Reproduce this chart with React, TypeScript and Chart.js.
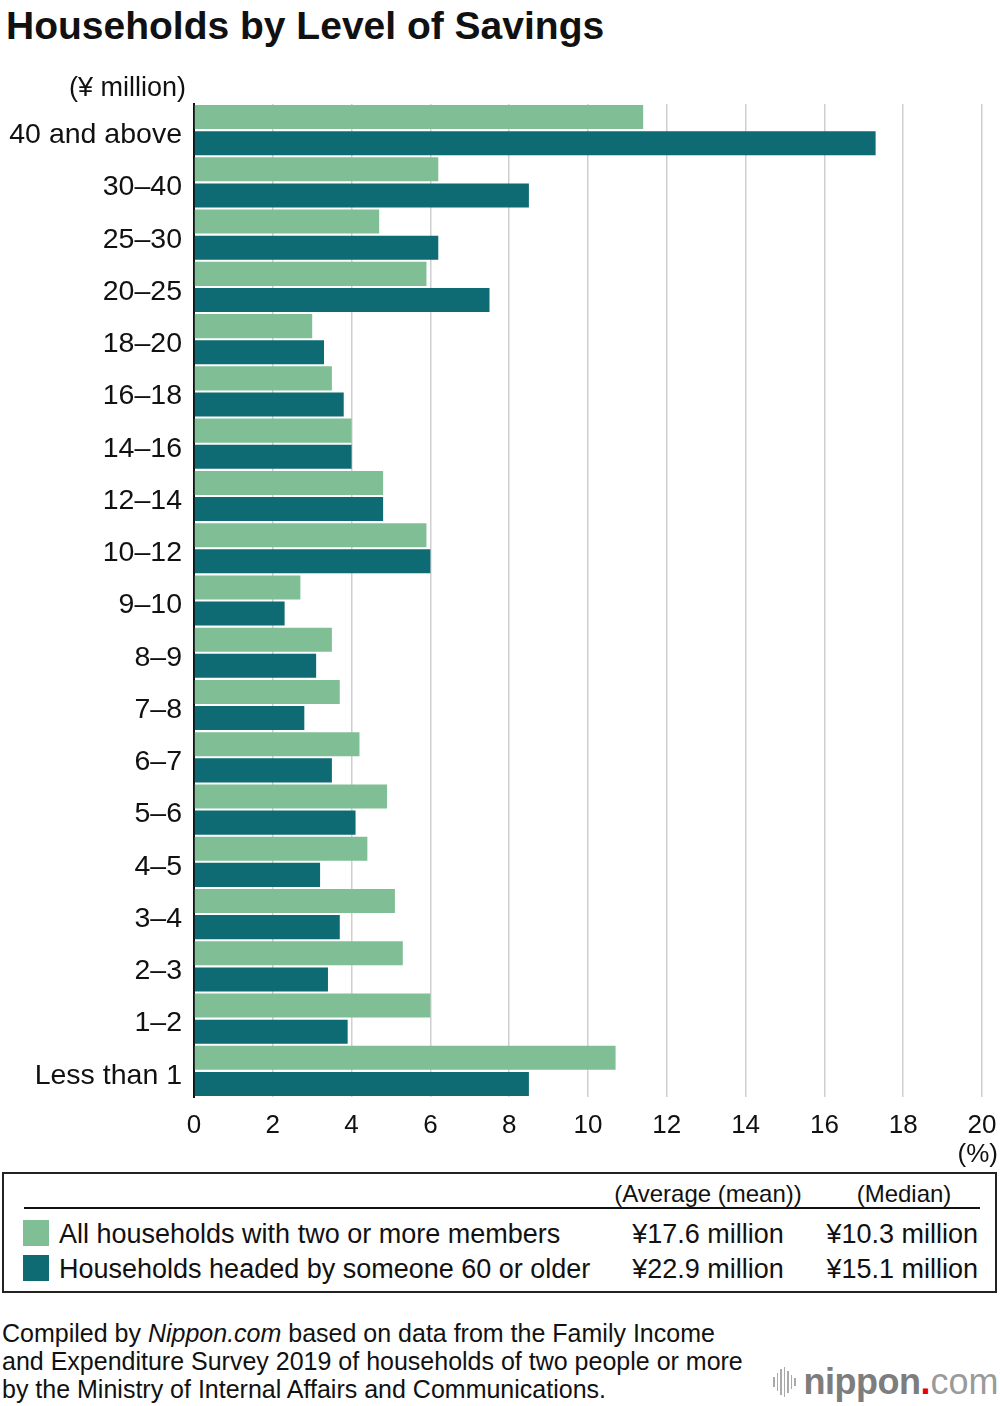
import React, { useEffect, useRef } from "react";
import { Chart, registerables } from "chart.js";

Chart.register(...registerables);

const categories = [
  "40 and above", "30–40", "25–30", "20–25", "18–20", "16–18", "14–16", "12–14", "10–12",
  "9–10", "8–9", "7–8", "6–7", "5–6", "4–5", "3–4", "2–3", "1–2", "Less than 1",
];
const allHouseholds = [11.4, 6.2, 4.7, 5.9, 3.0, 3.5, 4.0, 4.8, 5.9, 2.7, 3.5, 3.7, 4.2, 4.9, 4.4, 5.1, 5.3, 6.0, 10.7];
const seniorHouseholds = [17.3, 8.5, 6.2, 7.5, 3.3, 3.8, 4.0, 4.8, 6.0, 2.3, 3.1, 2.8, 3.5, 4.1, 3.2, 3.7, 3.4, 3.9, 8.5];
const seriesNames = ["All households with two or more members", "Households headed by someone 60 or older"];
const meanValues = ["¥17.6 million", "¥22.9 million"];
const medianValues = ["¥10.3 million", "¥15.1 million"];
const xMin = 0;
const xMax = 20;
const xStep = 2;

const GREEN = "#80bf96";
const TEAL = "#0e6a73";
const FONT = "'Liberation Sans', Arial, Helvetica, sans-serif";

export default function App() {
  const canvasRef = useRef<HTMLCanvasElement | null>(null);

  useEffect(() => {
    document.body.style.margin = "0";
    const canvas = canvasRef.current;
    if (!canvas) return;
    const chart = new Chart(canvas, {
      type: "bar",
      data: {
        labels: categories,
        datasets: [
          { label: seriesNames[0], data: allHouseholds, backgroundColor: GREEN, barPercentage: 0.92, categoryPercentage: 1 },
          { label: seriesNames[1], data: seniorHouseholds, backgroundColor: TEAL, barPercentage: 0.92, categoryPercentage: 1 },
        ],
      },
      options: {
        indexAxis: "y",
        responsive: false,
        animation: false,
        layout: { padding: { top: 104, right: 18, bottom: 0, left: 0 } },
        plugins: { legend: { display: false }, tooltip: { enabled: false }, title: { display: false } },
        scales: {
          x: {
            min: xMin,
            max: xMax,
            ticks: { stepSize: xStep, color: "#111", font: { family: FONT, size: 26 }, padding: 13 },
            grid: { color: "#cfcfcf", lineWidth: 1.5, drawTicks: false },
            border: { display: false },
            afterFit: (scale: any) => { scale.height = 68; scale.paddingLeft = 0; scale.paddingRight = 0; },
          },
          y: {
            ticks: { color: "#111", font: { family: FONT, size: 28.5 }, padding: 12, labelOffset: 5 },
            grid: { display: false, drawTicks: false },
            border: { display: true, color: "#111", width: 2 },
            afterFit: (scale: any) => { scale.width = 194; scale.paddingTop = 0; scale.paddingBottom = 0; },
          },
        },
      },
    });
    return () => chart.destroy();
  }, []);

  const txt: React.CSSProperties = { position: "absolute", fontFamily: FONT, color: "#111", whiteSpace: "nowrap" };

  return (
    <div style={{ position: "relative", width: 1000, height: 1406, background: "#fff", fontFamily: FONT }}>
      <div style={{ ...txt, left: 6, top: 4, fontSize: 39, fontWeight: "bold" }}>Households by Level of Savings</div>
      <canvas ref={canvasRef} width={1000} height={1165} style={{ position: "absolute", left: 0, top: 0, width: 1000, height: 1165 }} />
      <div style={{ ...txt, left: 69, top: 72, fontSize: 27 }}>(¥ million)</div>
      <div style={{ ...txt, right: 2, top: 1138, fontSize: 26 }}>(%)</div>

      <div style={{ position: "absolute", left: 2, top: 1172, width: 991, height: 117, border: "2px solid #222" }}>
        <div style={{ ...txt, left: 604, width: 200, textAlign: "center", top: 6, fontSize: 24 }}>(Average (mean))</div>
        <div style={{ ...txt, left: 800, width: 200, textAlign: "center", top: 6, fontSize: 24 }}>(Median)</div>
        <div style={{ position: "absolute", left: 20, top: 33, width: 956, height: 2, background: "#111" }} />
        {seriesNames.map((name, i) => (
          <React.Fragment key={name}>
            <div style={{ position: "absolute", left: 19, top: 46 + i * 35, width: 26, height: 26, background: i === 0 ? GREEN : TEAL }} />
            <div style={{ ...txt, left: 55, top: 45 + i * 35, fontSize: 27 }}>{name}</div>
            <div style={{ ...txt, left: 604, width: 200, textAlign: "center", top: 45 + i * 35, fontSize: 27 }}>{meanValues[i]}</div>
            <div style={{ ...txt, right: 17, top: 45 + i * 35, fontSize: 27 }}>{medianValues[i]}</div>
          </React.Fragment>
        ))}
      </div>

      <div style={{ ...txt, left: 2, top: 1319, fontSize: 25, lineHeight: "28px" }}>
        Compiled by <i>Nippon.com</i> based on data from the Family Income<br />
        and Expenditure Survey 2019 of households of two people or more<br />
        by the Ministry of Internal Affairs and Communications.
      </div>

      <div style={{ position: "absolute", left: 773, top: 1362, height: 40, display: "flex", alignItems: "center" }}>
        {[10, 18, 26, 30, 22, 14, 8].map((h, i) => (
          <div key={i} style={{ width: 1.5, height: h, background: "#aaa", marginRight: 2 }} />
        ))}
        <span style={{ fontFamily: FONT, fontSize: 36, fontWeight: "bold", color: "#7d7d7d", marginLeft: 6, letterSpacing: -0.5 }}>nippon</span>
        <span style={{ fontFamily: FONT, fontSize: 36, fontWeight: "bold", color: "#e60012" }}>.</span>
        <span style={{ fontFamily: FONT, fontSize: 36, color: "#9a9a9a", fontWeight: 300 }}>com</span>
      </div>
    </div>
  );
}
